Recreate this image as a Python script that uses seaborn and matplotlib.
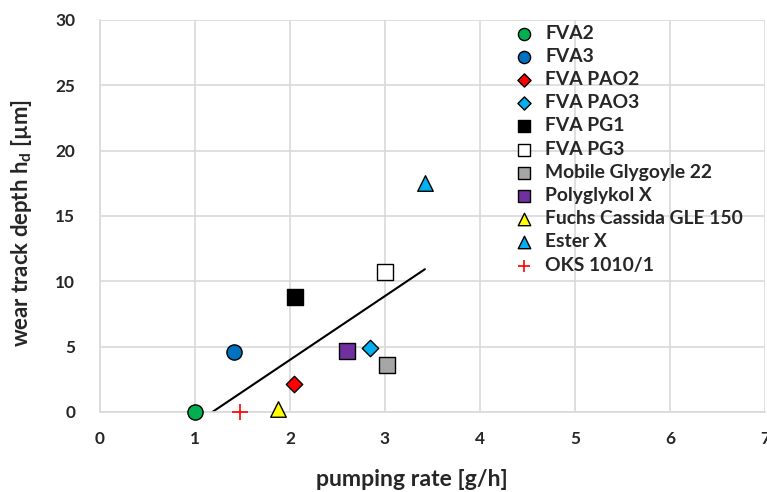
import numpy as np
import pandas as pd
import matplotlib
matplotlib.use('Agg')
import matplotlib.pyplot as plt
import seaborn as sns

# Data
names = ['FVA2', 'FVA3', 'FVA PAO2', 'FVA PAO3', 'FVA PG1', 'FVA PG3',
         'Mobile Glygoyle 22', 'Polyglykol X', 'Fuchs Cassida GLE 150', 'Ester X', 'OKS 1010/1']
pumping_rate = [1.0, 1.41, 2.04, 2.84, 2.05, 3.0, 3.02, 2.6, 1.87, 3.42, 1.47]
wear_depth = [0.0, 4.6, 2.15, 4.9, 8.8, 10.7, 3.6, 4.7, 0.25, 17.5, 0.0]
markers = ['o', 'o', 'D', 'D', 's', 's', 's', 's', '^', '^', '+']
colors = ['#00B050', '#0070C0', '#FF0000', '#00B0F0', '#000000', '#FFFFFF',
          '#A6A6A6', '#7030A0', '#FFFF00', '#00B0F0', '#FF0000']
sizes = [120, 120, 70, 70, 135, 135, 135, 135, 125, 125, 130]

xlabel = 'pumping rate [g/h]'
ylabel = r'wear track depth h$_{\mathregular{d}}$ [µm]'

sns.set_theme(style='whitegrid')
plt.rcParams['font.family'] = ['Lato', 'DejaVu Sans']
plt.rcParams['font.weight'] = 'bold'
plt.rcParams['mathtext.fontset'] = 'custom'
plt.rcParams['mathtext.rm'] = 'Lato:bold'

fig = plt.figure(figsize=(7.67, 4.92), dpi=100)
ax = fig.add_axes([100 / 767, 1 - 412 / 492, 665 / 767, 392 / 492])
renderer = fig.canvas.get_renderer()


def fit_size(txt, target_px, size0=12):
    # pick a font size so the text spans about target_px pixels
    t = fig.text(0, 0, txt, fontsize=size0, fontweight='bold')
    w = t.get_window_extent(renderer=renderer).width
    t.remove()
    return size0 * target_px / w


df = pd.DataFrame({'name': names, 'x': pumping_rate, 'y': wear_depth})

# linear trendline over the range of the data
slope, icpt = np.polyfit(df['x'], df['y'], 1)
xs = np.array([df['x'].min(), df['x'].max()])
ax.plot(xs, slope * xs + icpt, color='black', lw=1.5, zorder=2)

for i, n in enumerate(names):
    sub = df[df['name'] == n]
    if markers[i] == '+':
        sns.scatterplot(data=sub, x='x', y='y', marker='+', color=colors[i], s=sizes[i],
                        linewidth=1.2, label=n, ax=ax, zorder=3, clip_on=False)
    else:
        sns.scatterplot(data=sub, x='x', y='y', marker=markers[i], color=colors[i], s=sizes[i],
                        edgecolor='black', linewidth=1.0, label=n, ax=ax, zorder=3, clip_on=False)

ax.set_xlim(0, 7)
ax.set_ylim(0, 30)
ax.set_xticks(range(0, 8))
ax.set_yticks(range(0, 31, 5))
ax.grid(True, color='#D9D9D9', lw=1.2)
for s in ['top', 'right']:
    ax.spines[s].set_visible(False)
for s in ['left', 'bottom']:
    ax.spines[s].set_color('#D9D9D9')
    ax.spines[s].set_linewidth(1.2)

tick_fs = fit_size('30', 20)
ax.tick_params(axis='x', length=0, labelsize=tick_fs, pad=13.5, colors='#262626')
ax.tick_params(axis='y', length=0, labelsize=tick_fs, pad=18, colors='#262626')
for lbl in ax.get_xticklabels() + ax.get_yticklabels():
    lbl.set_fontweight('bold')

ax.set_xlabel(xlabel, fontsize=fit_size(xlabel, 191), fontweight='bold', va='top')
ax.set_ylabel(ylabel, fontsize=fit_size(ylabel, 248), fontweight='bold')
ax.xaxis.set_label_coords(0.469, -0.145)
ax.yaxis.set_label_coords(-0.099, 0.482)

leg_fs = fit_size('Fuchs Cassida GLE 150', 197)
leg_px = leg_fs * 100 / 72
leg = ax.legend(loc='upper left', bbox_to_anchor=(0.612, 1.008), frameon=False,
                fontsize=leg_fs, handlelength=1.0, handletextpad=0.6,
                labelspacing=(24.1 - 0.93 * leg_px) / leg_px,
                markerscale=0.8, borderaxespad=0)
for t in leg.get_texts():
    t.set_fontweight('bold')

fig.savefig('out.png', dpi=100)
